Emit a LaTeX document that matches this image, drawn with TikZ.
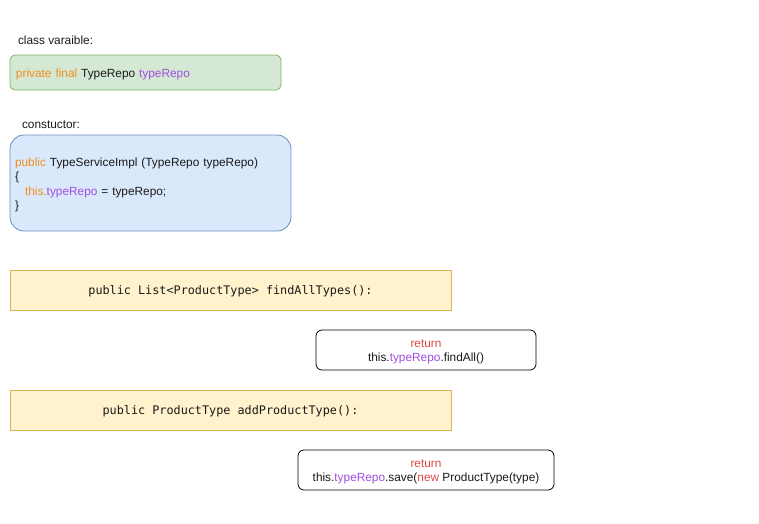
\documentclass[tikz,border=0pt]{standalone}
\usepackage{fontspec}
\setmainfont{Liberation Sans}
\setmonofont{DejaVu Sans Mono}
\usetikzlibrary{positioning}

\definecolor{kwOrange}{HTML}{EF8F1E}
\definecolor{kwPurple}{HTML}{9F4FE0}
\definecolor{kwRed}{HTML}{E04848}
\definecolor{varFill}{HTML}{D5E8D4}
\definecolor{varDraw}{HTML}{82B366}
\definecolor{ctorFill}{HTML}{DAE8FC}
\definecolor{ctorDraw}{HTML}{6C8EBF}
\definecolor{methFill}{HTML}{FFF2CC}
\definecolor{methDraw}{HTML}{D6B656}
\definecolor{txtGrey}{HTML}{1A1A1A}

\newcommand{\kwo}[1]{\textcolor{kwOrange}{#1}}
\newcommand{\kwp}[1]{\textcolor{kwPurple}{#1}}
\newcommand{\kwr}[1]{\textcolor{kwRed}{#1}}
\newcommand{\lift}{\rule{0pt}{12pt}}

\begin{document}
\begin{tikzpicture}[x=1pt, y=-1pt,
    font=\fontsize{11.85}{14.5}\selectfont, text=txtGrey,
    heading/.style={align=left, inner sep=0pt, outer sep=0pt},
    varbox/.style={align=left, rectangle, rounded corners=5pt, draw=varDraw, fill=varFill, line width=0.8pt, text width=259pt, inner xsep=6pt, inner ysep=0pt, outer sep=0pt, minimum height=35pt},
    ctorbox/.style={align=left, rectangle, rounded corners=14pt, draw=ctorDraw, fill=ctorFill, line width=0.8pt, text width=271pt, inner xsep=5pt, inner ysep=0pt, outer sep=0pt, minimum height=96pt},
    methbox/.style={align=center, rectangle, draw=methDraw, fill=methFill, line width=0.8pt, minimum width=441pt, minimum height=40pt, inner sep=0pt, outer sep=0pt, font=\fontsize{11.8}{14}\selectfont\ttfamily},
    retbox/.style={align=center, rectangle, rounded corners=6pt, draw=black, fill=white, line width=0.8pt, minimum height=40pt, inner sep=0pt, outer sep=0pt, font=\fontsize{11.85}{14}\selectfont}
]
    \useasboundingbox (0,0) rectangle (759,523);

    \node[heading, anchor=west] (LV) at (18,40) {class varaible:};
    \node[varbox, anchor=north west] (V) at (10,55) {\lift\kwo{private final} TypeRepo \kwp{typeRepo}};

    \node[heading, anchor=west] (LC) at (22,125) {constuctor:};
    \node[ctorbox] (C) [below=45pt of V.south west, anchor=north west] {\lift\kwo{public} TypeServiceImpl (TypeRepo typeRepo)\\
        \{\\
        \hspace*{10pt}\kwo{this.}\kwp{typeRepo} = typeRepo;\\
        \}};

    \node[methbox] (F1) [below=39pt of C.south west, anchor=north west] {\lift public List<ProductType> findAllTypes():};
    \node[retbox, minimum width=220pt] (R1) [below=20pt of F1.south east, anchor=north east, xshift=85pt] {\lift\kwr{return}\\this.\kwp{typeRepo}.findAll()};

    \node[methbox] (F2) [below=80pt of F1.south west, anchor=north west] {\lift public ProductType addProductType():};
    \node[retbox, minimum width=256pt] (R2) [below=20pt of F2.south east, anchor=north east, xshift=103pt] {\lift\kwr{return}\\this.\kwp{typeRepo}.save(\kwr{new} ProductType(type)};

\end{tikzpicture}
\end{document}
